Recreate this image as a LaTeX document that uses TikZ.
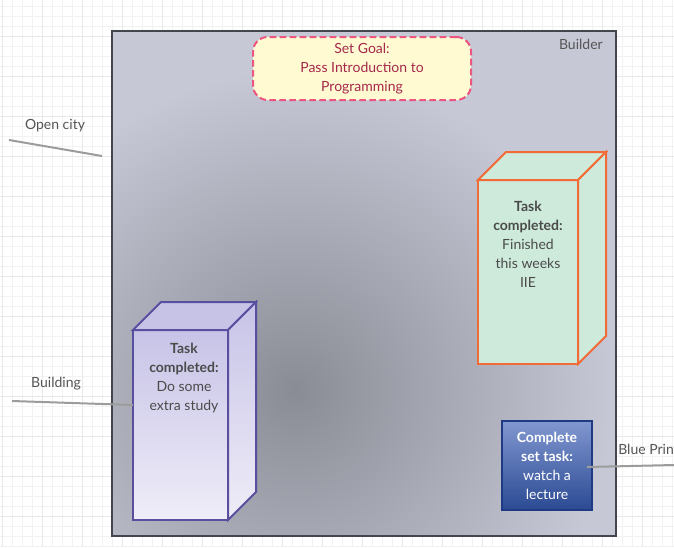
\documentclass[tikz,border=0pt]{standalone}
\usepackage{fontspec}
\setmainfont{Lato}
\usetikzlibrary{positioning}

\definecolor{gridline}{HTML}{F2F2F2}
\definecolor{gridmajor}{HTML}{E8E8E8}
\definecolor{labelgrey}{HTML}{555555}
\definecolor{framegrey}{HTML}{43464C}
\definecolor{shadein}{HTML}{8A8C95}
\definecolor{shadeout}{HTML}{C6C8D6}
\definecolor{goalpink}{HTML}{EC5481}
\definecolor{goalfill}{HTML}{FFFAD2}
\definecolor{goaltext}{HTML}{A5284C}
\definecolor{iieedge}{HTML}{F26A35}
\definecolor{iiefill}{HTML}{CDEADB}
\definecolor{studyedge}{HTML}{5A4E9F}
\definecolor{studytop}{HTML}{C7C3E7}
\definecolor{studybot}{HTML}{EFEDF8}
\definecolor{lecedge}{HTML}{1E3A85}
\definecolor{lectop}{HTML}{8197D0}
\definecolor{lecbot}{HTML}{2B4A93}
\definecolor{connectgrey}{HTML}{9C9C9C}
\definecolor{tasktextgrey}{HTML}{4B4B4B}

\tikzset{
  connector/.style={draw=connectgrey, line width=1.5pt},
  cubeface/.style={line width=1.5pt, outer sep=0pt},
  tasktext/.style={align=center, text=tasktextgrey}
}

\begin{document}
\begin{tikzpicture}[x=0.75pt, y=-0.75pt, every node/.style={font=\fontsize{10.5pt}{14.25pt}\selectfont, text=labelgrey, inner sep=0pt}]
    %--------------------%
    % Parameters
    %--------------------%
    \def\px{0.75pt}
    \def\depth{28}
    \def\linethic{1.5pt}

    %--------------------%
    % Canvas
    %--------------------%
    \useasboundingbox (0,0) rectangle (674,547);
    \fill[white] (0,0) rectangle (674,547);
    \foreach \i in {0,...,67} \draw[gridline, line width=0.75pt] (2.7+10*\i,0) -- (2.7+10*\i,547);
    \foreach \i in {0,...,54} \draw[gridline, line width=0.75pt] (0,6+10*\i) -- (674,6+10*\i);
    \foreach \i in {0,...,16} \draw[gridmajor, line width=0.75pt] (2.7+40*\i,0) -- (2.7+40*\i,547);
    \foreach \i in {0,...,13} \draw[gridmajor, line width=0.75pt] (0,-4+40*\i) -- (674,-4+40*\i);

    %--------------------%
    % Builder
    %--------------------%
    \begin{scope}
        \clip (112,31) rectangle (616,536);
        \fill[shadeout] (112,31) rectangle (616,536);
        \shade[inner color=shadein, outer color=shadeout] (295,390) circle (320);
    \end{scope}
    \node[draw=framegrey, line width=\linethic, minimum width=504*\px, minimum height=505*\px] (builder) at (364,283.5) {};
    \node[anchor=east] (buildertitle) at (603,44) {Builder};

    %--------------------%
    % Goal
    %--------------------%
    \node[draw=goalpink, dash pattern=on 5pt off 2.5pt, line width=\linethic, fill=goalfill, rounded corners=11pt,
          minimum width=218*\px, minimum height=63*\px, align=center, text=goaltext] (goal) at (362,68.5)
          {Set Goal:\\Pass Introduction to\\Programming};

    %--------------------%
    % Task: IIE
    %--------------------%
    \node[cubeface, draw=iieedge, fill=iiefill, minimum width=100*\px, minimum height=184*\px] (iie) at (528,272) {};
    \draw[cubeface, draw=iieedge, fill=iiefill] (iie.north west) -- ++(\depth,-\depth) -- ([shift={(\depth,-\depth)}]iie.north east) -- (iie.north east) -- cycle;
    \draw[cubeface, draw=iieedge, fill=iiefill] (iie.north east) -- ++(\depth,-\depth) -- ([shift={(\depth,-\depth)}]iie.south east) -- (iie.south east) -- cycle;
    \node[tasktext] (iietext) at (528,244) {\textbf{Task}\\\textbf{completed:}\\Finished\\this weeks\\IIE};

    %--------------------%
    % Task: extra study
    %--------------------%
    \node[cubeface, draw=studyedge, top color=studytop, bottom color=studybot, minimum width=95*\px, minimum height=190*\px] (study) at (180.5,425) {};
    \draw[cubeface, draw=studyedge, fill=studytop] (study.north west) -- ++(\depth,-\depth) -- ([shift={(\depth,-\depth)}]study.north east) -- (study.north east) -- cycle;
    \path[cubeface, draw=studyedge, top color=studytop, bottom color=studybot] (study.north east) -- ++(\depth,-\depth) -- ([shift={(\depth,-\depth)}]study.south east) -- (study.south east) -- cycle;
    \node[tasktext] (studytext) at (184,377.5) {\textbf{Task}\\\textbf{completed:}\\Do some\\extra study};

    %--------------------%
    % Set task: lecture
    %--------------------%
    \node[draw=lecedge, line width=\linethic, top color=lectop, bottom color=lecbot, minimum width=90*\px, minimum height=89*\px,
          align=center, text=white] (lecture) at (547,465.5)
          {\textbf{Complete}\\\textbf{set task:}\\watch a\\lecture};

    %--------------------%
    % Labels
    %--------------------%
    \node (citylabel) at (55,126) {Open city};
    \coordinate (citya) at (9,140);
    \coordinate (cityb) at (102,156);
    \draw[connector] (citya) -- (cityb);

    \node (buildlabel) at (56,384) {Building};
    \coordinate (builda) at (12,401);
    \coordinate (buildb) at (133,405);
    \draw[connector] (builda) -- (buildb);

    \begin{scope}
        \clip (0,0) rectangle (674,547);
        \node[anchor=west] (printlabel) at (618,449) {Blue Print};
    \end{scope}
    \coordinate (printa) at (587,467);
    \coordinate (printb) at (674,465);
    \draw[connector] (printa) -- (printb);

\end{tikzpicture}
\end{document}
